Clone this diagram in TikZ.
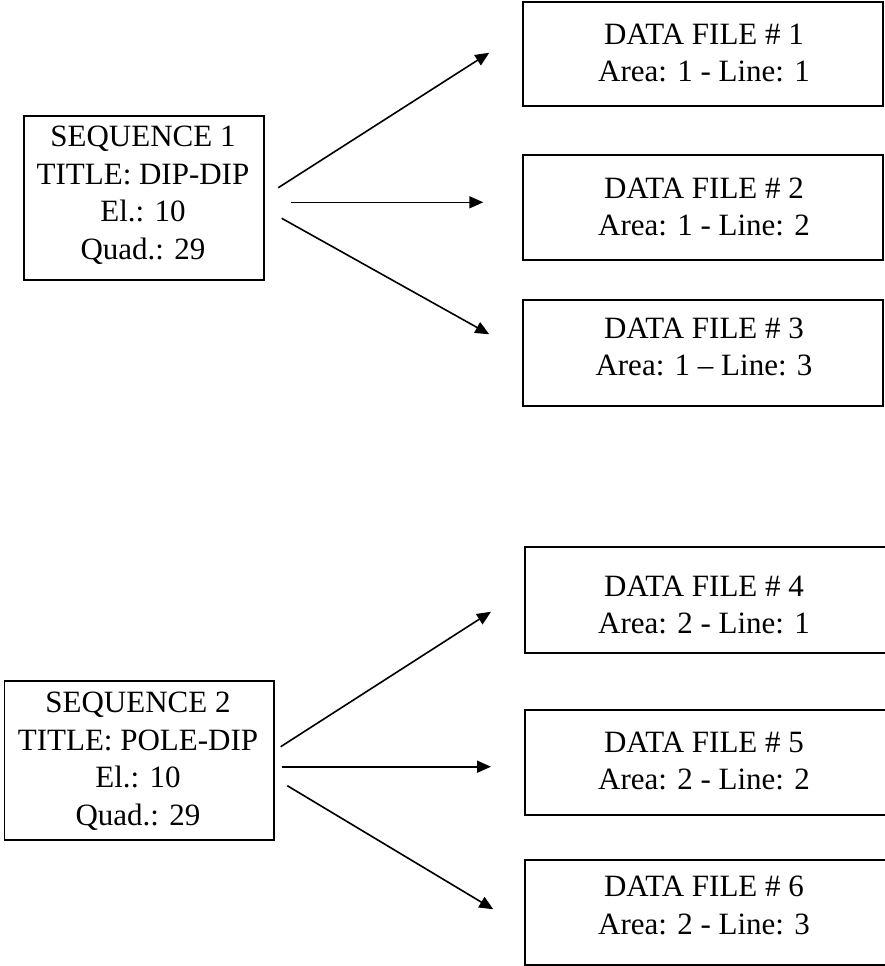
\documentclass[tikz,border=0pt]{standalone}
\usepackage{fontspec}
\setmainfont{Liberation Serif}
\usetikzlibrary{arrows.meta}

\begin{document}
\begin{tikzpicture}[x=1pt,y=-1pt,
  box/.style={draw, line width=1.9pt, inner sep=0pt, anchor=north west},
  label/.style={align=center, inner sep=0pt, font=\fontsize{31}{37.5}\selectfont},
  link/.style={line width=1.6pt, -{Triangle[length=14pt,width=12pt]}}]
  \useasboundingbox (0,0) rectangle (885,966);

  % sequence boxes
  \node[box, minimum width=240pt, minimum height=164pt] (s1) at (23,115) {};
  \node[box, minimum width=269.5pt, minimum height=159pt] (s2) at (3.5,680) {};

  % data file boxes
  \node[box, minimum width=360pt, minimum height=104.5pt] (f1) at (522,0.8) {};
  \node[box, minimum width=360pt, minimum height=105pt] (f2) at (522,154) {};
  \node[box, minimum width=360pt, minimum height=106pt] (f3) at (522,299) {};
  \node[box, minimum width=366pt, minimum height=106pt] (f4) at (524,546) {};
  \node[box, minimum width=366pt, minimum height=105pt] (f5) at (524,709) {};
  \node[box, minimum width=366pt, minimum height=105pt] (f6) at (524,859) {};

  % texts
  \node[label] (ts1) at (143,195) {SEQUENCE 1\\TITLE: DIP-DIP\\El.: 10\\Quad.: 29};
  \node[label] (ts2) at (138,761) {SEQUENCE 2\\TITLE: POLE-DIP\\El.: 10\\Quad.: 29};
  \node[label] (tf1) at (704,53) {DATA FILE \# 1\\Area: 1 - Line: 1};
  \node[label] (tf2) at (704,207) {DATA FILE \# 2\\Area: 1 - Line: 2};
  \node[label] (tf3) at (704,347) {DATA FILE \# 3\\Area: 1 -- Line: 3};
  \node[label] (tf4) at (704,605) {DATA FILE \# 4\\Area: 2 - Line: 1};
  \node[label] (tf5) at (704,761) {DATA FILE \# 5\\Area: 2 - Line: 2};
  \node[label] (tf6) at (704,905.5) {DATA FILE \# 6\\Area: 2 - Line: 3};

  % arrow end points
  \coordinate (a1s) at (278.3,187.7);  \coordinate (a1e) at (489.3,52.7);
  \coordinate (a2s) at (291,202.3);    \coordinate (a2e) at (483.3,202.3);
  \coordinate (a3s) at (281.7,218.3);  \coordinate (a3e) at (489.3,334.3);
  \coordinate (a4s) at (280.7,746.7);  \coordinate (a4e) at (491,611.7);
  \coordinate (a5s) at (281.7,766.7);  \coordinate (a5e) at (491,766.7);
  \coordinate (a6s) at (287.3,785.7);  \coordinate (a6e) at (493.3,909.3);

  \draw[link] (a1s) -- (a1e);
  \draw[link] (a2s) -- (a2e);
  \draw[link] (a3s) -- (a3e);
  \draw[link] (a4s) -- (a4e);
  \draw[link] (a5s) -- (a5e);
  \draw[link] (a6s) -- (a6e);
\end{tikzpicture}
\end{document}
